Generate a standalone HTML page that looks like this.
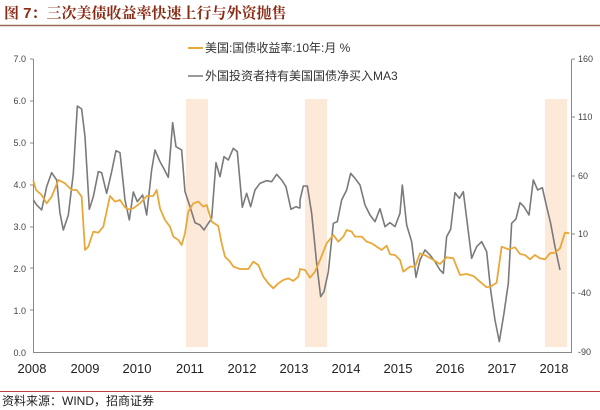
<!DOCTYPE html>
<html><head><meta charset="utf-8"><style>
body{margin:0;background:#fff;width:600px;height:410px;overflow:hidden;font-family:"Liberation Sans","Noto Sans CJK SC",sans-serif}
</style></head><body>
<svg width="600" height="410" xmlns="http://www.w3.org/2000/svg" style="position:absolute;left:0;top:0">
<text x="4" y="18" font-size="15" font-weight="bold" fill="#8a2a12" font-family="Liberation Sans, Noto Serif CJK SC, serif">图 7：三次美债收益率快速上行与外资抛售</text>
<line x1="0" y1="25.5" x2="600" y2="25.5" stroke="#9a6a55" stroke-width="1.5"/>
<rect x="186" y="99" width="22" height="248" fill="#fde9d8"/>
<rect x="305" y="99" width="22" height="248" fill="#fde9d8"/>
<rect x="545" y="99" width="22" height="248" fill="#fde9d8"/>
<g font-size="9" fill="#444" text-anchor="end">
<text x="26" y="62">7.0</text><text x="26" y="104">6.0</text><text x="26" y="146">5.0</text><text x="26" y="188">4.0</text><text x="26" y="230">3.0</text><text x="26" y="272">2.0</text><text x="26" y="314">1.0</text><text x="26" y="356">0.0</text>
</g>
<g stroke="#888" stroke-width="1">
<line x1="33.5" y1="59" x2="33.5" y2="352"/>
<line x1="33" y1="352.5" x2="572" y2="352.5"/>
<line x1="571.5" y1="59" x2="571.5" y2="352"/>
<line x1="30" y1="59" x2="33" y2="59"/><line x1="30" y1="101" x2="33" y2="101"/><line x1="30" y1="143" x2="33" y2="143"/><line x1="30" y1="185" x2="33" y2="185"/><line x1="30" y1="227" x2="33" y2="227"/><line x1="30" y1="268" x2="33" y2="268"/><line x1="30" y1="310" x2="33" y2="310"/>
<line x1="572" y1="59" x2="575" y2="59"/><line x1="572" y1="117" x2="575" y2="117"/><line x1="572" y1="176" x2="575" y2="176"/><line x1="572" y1="234" x2="575" y2="234"/><line x1="572" y1="293" x2="575" y2="293"/>
</g>
<g font-size="9" fill="#444">
<text x="578" y="62">160</text><text x="578" y="120">110</text><text x="578" y="179">60</text><text x="578" y="237">10</text><text x="578" y="296">-40</text><text x="578" y="355">-90</text>
</g>
<g font-size="13" fill="#222" text-anchor="middle">
<text x="32" y="373">2008</text><text x="85" y="373">2009</text><text x="137" y="373">2010</text><text x="190" y="373">2011</text><text x="242" y="373">2012</text><text x="294" y="373">2013</text><text x="346" y="373">2014</text><text x="398" y="373">2015</text><text x="450" y="373">2016</text><text x="502" y="373">2017</text><text x="554" y="373">2018</text>
</g>
<line x1="188" y1="48" x2="203" y2="48" stroke="#e8a83a" stroke-width="2"/>
<text x="205" y="52" font-size="12" fill="#333">美国:国债收益率:10年:月 %</text>
<line x1="188" y1="76" x2="203" y2="76" stroke="#777" stroke-width="1.5"/>
<text x="205" y="80" font-size="12" fill="#333">外国投资者持有美国国债净买入MA3</text>
<g fill="none" stroke-linejoin="round">
<g transform="translate(0,90) scale(0.3333)">
<polyline vector-effect="non-scaling-stroke" stroke="#7a7a7a" stroke-width="1.6" points="100,330 110,345 125,360 140,290 155,248 170,270 180,370 190,420 205,375 220,250 232,48 245,57 255,140 268,358 280,320 295,245 305,248 320,310 335,245 348,182 360,188 375,330 388,390 400,306 412,335 428,315 440,375 455,240 465,180 480,215 490,233 505,262 518,98 528,170 545,180 555,305 570,350 585,398 600,405 612,420 625,400 635,385 648,218 660,260 672,200 685,210 700,175 712,185 727,352 740,310 752,350 765,300 780,280 800,272 815,275 830,253 845,270 858,290 873,358 888,350 900,355"/>
<polyline vector-effect="non-scaling-stroke" stroke="#e8a83a" stroke-width="1.8" points="100,272 108,300 125,315 140,340 155,320 175,270 195,280 215,300 230,300 245,320 255,480 265,470 280,425 295,428 310,410 330,318 345,335 360,330 375,352 385,358 400,355 420,340 440,318 460,318 470,300 480,355 495,390 510,410 520,440 535,450 545,465 555,430 565,365 580,340 595,335 610,350 620,345 635,395 655,408 665,460 675,500 690,515 700,530 720,537 745,537 760,515 775,525 790,560 805,580 820,595 835,580 850,570 865,565 880,573 895,560 900,540"/>
</g>
<g transform="translate(300,90) scale(0.3333)">
<polyline vector-effect="non-scaling-stroke" stroke="#7a7a7a" stroke-width="1.6" points="0,355 0,330 10,288 22,288 35,370 50,520 62,620 72,605 85,545 100,400 112,395 125,330 140,300 152,250 165,265 180,285 195,345 210,375 225,395 240,356 255,410 270,398 285,410 300,370 307,285 320,405 335,455 348,562 360,510 375,480 390,495 405,515 420,540 430,550 440,440 452,418 465,308 478,325 490,305 505,425 515,505 530,470 545,455 560,485 572,600 585,690 598,755 612,670 625,580 635,400 648,387 660,338 672,350 687,375 700,270 713,300 727,293 740,350 752,400 765,470 780,540"/>
<polyline vector-effect="non-scaling-stroke" stroke="#e8a83a" stroke-width="1.8" points="0,540 0,537 15,540 30,563 45,545 60,510 80,460 100,435 115,455 130,440 140,420 155,425 165,440 185,440 200,455 215,460 230,470 245,480 260,467 270,493 285,495 300,510 310,545 330,530 345,530 360,490 380,498 400,510 420,522 440,502 460,505 480,555 500,552 520,558 540,575 560,592 575,588 590,578 605,470 625,478 645,472 660,492 675,495 690,508 705,495 720,505 735,508 750,490 765,488 780,475 795,428 808,430"/>
</g>
</g>
<line x1="0" y1="391.5" x2="600" y2="391.5" stroke="#c04040" stroke-width="1"/>
<text x="2" y="405" font-size="12" fill="#222">资料来源：WIND，招商证券</text>
</svg>
</body></html>
